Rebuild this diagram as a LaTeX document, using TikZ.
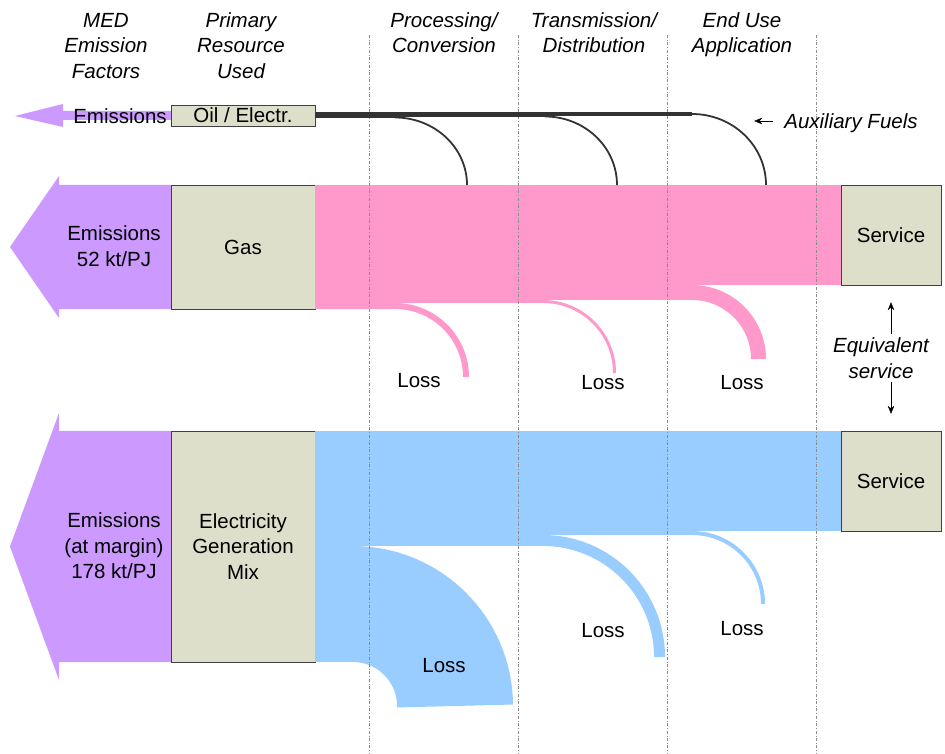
\documentclass[tikz,border=0pt]{standalone}
\usepackage{fontspec}
\setmainfont{Liberation Sans}
\usetikzlibrary{arrows.meta}

\definecolor{emisviolet}{HTML}{CC99FF}
\definecolor{gaspink}{HTML}{FF99CC}
\definecolor{elecblue}{HTML}{99CCFF}
\definecolor{boxfill}{HTML}{DDDFCA}
\definecolor{auxgray}{HTML}{333333}

\begin{document}
\begin{tikzpicture}[
			x = 1pt, y = -1pt, % one unit per pixel, y pointing down
			> = {Stealth[length = 8pt, width = 6.5pt]}, % arrow head style
			font = \fontsize{20.5}{25.5}\selectfont,
			box/.style = {draw = black!75, fill = boxfill, thin, inner sep = 0pt, align = center},
			hdr/.style = {align = center, font = \fontsize{20.5}{25.5}\selectfont\itshape},
			phase/.style = {draw = black!45, dash dot, very thin},
			emis/.style = {fill = emisviolet},
			gasflow/.style = {fill = gaspink},
			elecflow/.style = {fill = elecblue},
			auxcurve/.style = {draw = auxgray, line width = 1.8pt},
			lbl/.style = {align = center, inner sep = 0pt}
			]
			
			\useasboundingbox (0,0) rectangle (945,754);
			
			% boxes
			\node[box, minimum width = 144, minimum height = 21] (oil) at (243,115.5) {Oil / Electr.};
			\node[box, minimum width = 144, minimum height = 124] (gas) at (243,247) {Gas};
			\node[box, minimum width = 144, minimum height = 231] (elec) at (243,546.5) {Electricity\\Generation\\Mix};
			\node[box, minimum width = 100, minimum height = 100] (svc1) at (891,235) {Service};
			\node[box, minimum width = 100, minimum height = 100] (svc2) at (891,481) {Service};
			
			% emission arrows
			\fill[emis] (oil.west |- 0,111) -- (63,111) -- (63,104) -- (15,116) -- (63,127) -- (63,120) -- (oil.west |- 0,120) -- cycle;
			\fill[emis] (gas.north west) -- (59,185) -- (59,176) -- (10,247) -- (59,318) -- (59,309) -- (gas.south west) -- cycle;
			\fill[emis] (elec.north west) -- (59,431) -- (59,413) -- (10,546.5) -- (59,680) -- (59,662) -- (elec.south west) -- cycle;
			
			% gas flow and losses
			\fill[gasflow] (gas.north east) rectangle (396,309);
			\fill[gasflow] (395,185) rectangle (544,303);
			\fill[gasflow] (543,185) rectangle (693,300);
			\fill[gasflow] (692,185) rectangle (svc1.south west);
			\draw[gaspink, line width = 6] (395,306) arc[start angle = -90, end angle = 0, radius = 71];
			\draw[gaspink, line width = 3] (543,301.5) arc[start angle = -90, end angle = 0, radius = 71.5];
			\draw[gaspink, line width = 15] (692,292.5) arc[start angle = -90, end angle = 0, radius = 66.5];
			
			% electricity flow and losses
			\fill[elecflow] (elec.north east) rectangle (356,662);
			\fill[elecflow] (353,431) rectangle (544,546);
			\fill[elecflow] (543,431) rectangle (693,535);
			\fill[elecflow] (692,431) rectangle (svc2.south west);
			\draw[elecblue, line width = 116] (353,604) arc[start angle = -90, end angle = 0, radius = 102];
			\draw[elecblue, line width = 11] (543,540.5) arc[start angle = -90, end angle = 0, radius = 116.5];
			\draw[elecblue, line width = 4] (692,533) arc[start angle = -90, end angle = 0, radius = 71];
			
			% process stages
			\foreach \x in {369.5, 518.5, 667.5, 816.5}
				\draw[phase] (\x,35) -- (\x,754);
			
			% auxiliary fuels
			\fill[auxgray] (oil.east |- 0,112) rectangle (395,118.5);
			\fill[auxgray] (395,112) rectangle (545,117.3);
			\fill[auxgray] (545,112) rectangle (692,116);
			\draw[auxcurve] (395,117.5) arc[start angle = -90, end angle = 0, x radius = 72, y radius = 67.5];
			\draw[auxcurve] (545,116.5) arc[start angle = -90, end angle = 0, x radius = 72, y radius = 68.5];
			\draw[auxcurve] (692,114) arc[start angle = -90, end angle = 0, x radius = 74, y radius = 71];
			
			% headings
			\node[hdr] (hmed) at (106,47.5) {\strut MED\\Emission\\Factors\strut};
			\node[hdr] (hres) at (241,47.5) {\strut Primary\\Resource\\Used\strut};
			\node[hdr] (hproc) at (444,35) {\strut Processing/\\Conversion\strut};
			\node[hdr] (htrans) at (594,35) {\strut Transmission/\\Distribution\strut};
			\node[hdr] (huse) at (742,35) {\strut End Use\\Application\strut};
			
			% labels
			\node[lbl] (emoil) at (120,116) {Emissions};
			\node[lbl] (emgas) at (114,246) {Emissions\\52 kt/PJ};
			\node[lbl] (emelec) at (114,546) {Emissions\\(at margin)\\178 kt/PJ};
			\node[lbl] (gl1) at (419,381) {Loss};
			\node[lbl] (gl2) at (603,383) {Loss};
			\node[lbl] (gl3) at (742,383) {Loss};
			\node[lbl] (el1) at (444,666) {Loss};
			\node[lbl] (el2) at (603,631) {Loss};
			\node[lbl] (el3) at (742,629) {Loss};
			
			\node[lbl, font = \fontsize{20.5}{25.5}\selectfont\itshape] (aux) at (851,123) {Auxiliary Fuels};
			\draw[->, thin] ([xshift = -11pt, yshift = 2pt]aux.west) -- ++(-19,0);
			
			\node[lbl, font = \fontsize{20.5}{25.5}\selectfont\itshape, inner sep = 4pt] (eqv) at (881,358) {Equivalent\\service};
			\draw[->, thin] (eqv.north -| svc1.south) -- ([yshift = -17pt]svc1.south);
			\draw[->, thin] (eqv.south -| svc2.north) -- ([yshift = 17pt]svc2.north);
		\end{tikzpicture}
\end{document}
